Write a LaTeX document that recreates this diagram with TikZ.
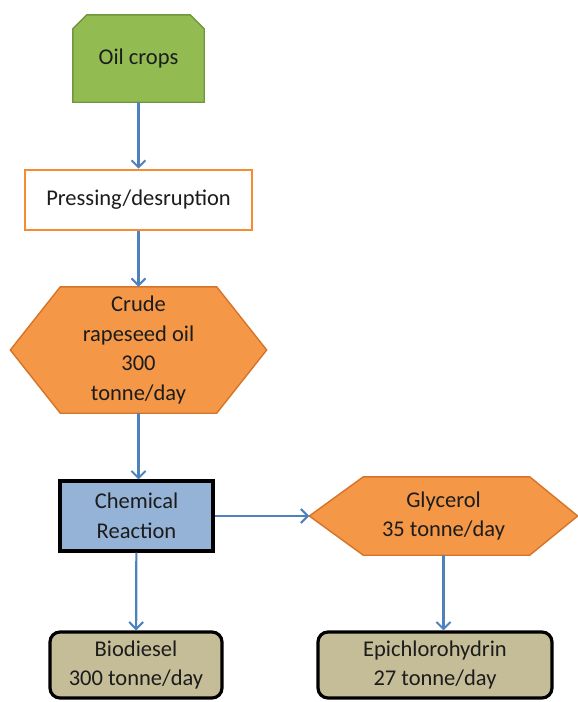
\documentclass[tikz,border=0pt]{standalone}
\usepackage{fontspec}
\setmainfont{Carlito}
\usepackage{tikz}
\usetikzlibrary{arrows.meta}
\usetikzlibrary{backgrounds}
\usetikzlibrary{calc}

\definecolor{cropgreen}{RGB}{146,188,82}
\definecolor{cropedge}{RGB}{112,150,62}
\definecolor{oilorange}{RGB}{244,152,72}
\definecolor{oiledge}{RGB}{215,115,40}
\definecolor{pressedge}{RGB}{245,140,50}
\definecolor{reactblue}{RGB}{149,179,215}
\definecolor{producttan}{RGB}{196,189,151}
\definecolor{flowblue}{RGB}{79,129,189}
\definecolor{labelgray}{RGB}{28,28,28}

\tikzset{
  label/.style = {align=center, text=labelgray,
    font=\fontsize{22.5}{29.5}\selectfont, inner sep=0pt},
  pressbox/.style = {label, draw=pressedge, line width=2.6pt, fill=white},
  reactbox/.style = {label, draw=black, line width=3.2pt, fill=reactblue},
  productbox/.style = {label, draw=black, line width=3.2pt, fill=producttan,
    rounded corners=10pt},
  hexfill/.style = {fill=oilorange, draw=oiledge, line width=1.4pt},
  flow/.style = {draw=flowblue, line width=2.2pt,
    -{Straight Barb[length=7pt,width=14pt,line width=2pt]}}
}

\begin{document}
\begin{tikzpicture}[x=1pt,y=-1pt]
  \useasboundingbox (0,0) rectangle (578,702);

  % sources
  \node[label, minimum width=131, minimum height=87] (crops) at (138.5,58.5) {Oil crops};
  \node[pressbox, minimum width=227, minimum height=60] (press) at (138.5,200) {Pressing/desruption};
  \node[label, minimum width=256, minimum height=126] (crude) at (138.5,350) {Crude\\rapeseed oil\\300\\tonne/day};

  % process and products
  \node[reactbox, minimum width=153, minimum height=70] (react) at (136.5,516) {Chemical\\Reaction};
  \node[label, minimum width=268, minimum height=78] (glycerol) at (443.5,516) {Glycerol\\35 tonne/day};
  \node[productbox, minimum width=172, minimum height=66] (biodiesel) at (136,665) {Biodiesel\\300 tonne/day};
  \node[productbox, minimum width=234, minimum height=66] (epi) at (435,665) {Epichlorohydrin\\27 tonne/day};

  \begin{scope}[on background layer]
    \filldraw[fill=cropgreen, draw=cropedge, line width=1.4pt]
      (crops.south west) -- ([yshift=-14]crops.west |- crops.north) -- ([xshift=14]crops.north west)
      -- ([xshift=-14]crops.north east) -- ([yshift=-14]crops.north east) -- (crops.south east) -- cycle;
    \filldraw[hexfill] (crude.west) -- ([xshift=50]crude.north west) -- ([xshift=-50]crude.north east)
      -- (crude.east) -- ([xshift=-50]crude.south east) -- ([xshift=50]crude.south west) -- cycle;
    \filldraw[hexfill] (glycerol.west) -- ([xshift=54]glycerol.north west) -- ([xshift=-48]glycerol.north east)
      -- (glycerol.east) -- ([xshift=-48]glycerol.south east) -- ([xshift=54]glycerol.south west) -- cycle;
  \end{scope}

  % flows
  \draw[flow] (crops) -- (press);
  \draw[flow] (press) -- (crude);
  \draw[flow] (crude.south) -- (crude.south |- react.north);
  \draw[flow] (react) -- (biodiesel);
  \draw[flow] (react) -- (glycerol);
  \draw[flow] (glycerol.south) -- (glycerol.south |- epi.north);
\end{tikzpicture}
\end{document}
